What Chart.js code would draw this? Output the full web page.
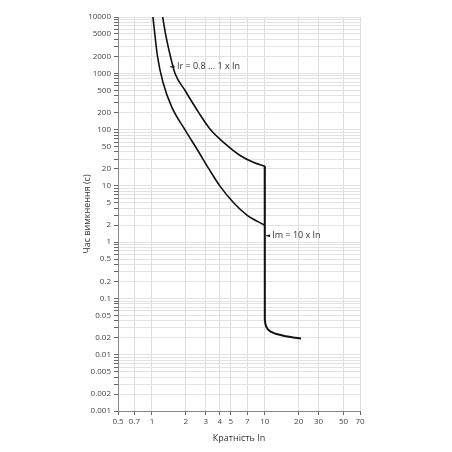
<!DOCTYPE html>
<html><head><meta charset="utf-8">
<script src="https://cdn.jsdelivr.net/npm/chart.js@4"></script>
<style>html,body{margin:0;padding:0;background:#fff}#w{width:452px;height:452px}</style>
</head><body><div id="w"><canvas id="c"></canvas></div>
<script>
const xTickLabels = [0.5,0.7,1,2,3,4,5,7,10,20,30,50,70];
const yTickLabels = [0.001,0.002,0.005,0.01,0.02,0.05,0.1,0.2,0.5,1,2,5,10,20,50,100,200,500,1000,2000,5000,10000];
const upperX = [1.245,1.32,1.42,1.6,1.96,2.6,3.3,4.5,6,8,10];
const upperY = [10000,5000,2500,1000,500,200,100,55,35,26,22.5];
const lowerX = [1.02,1.06,1.12,1.25,1.5,1.96,2.6,3.2,4.0,5.3,7,10];
const lowerY = [10000,5000,2000,700,250,100,40,20,10,5,3,2];
const tailX = [10,10,10.05,10.15,10.35,10.7,11.3,12.5,15,18,21];
const tailY = [22.5,0.05,0.041,0.035,0.031,0.028,0.0258,0.0235,0.0215,0.0202,0.0194];
const labels = [
  {text:'Ir = 0.8 ... 1 x In', x:1.6, y:1300, ax:1.45},
  {text:'Im = 10 x In', x:11.2, y:1.3, ax:10.25}
];
const pts=(xs,ys)=>xs.map((x,i)=>({x,y:ys[i]}));
const yAll=[];for(let e=-3;e<4;e++)for(let m=1;m<10;m++)yAll.push(+(m*Math.pow(10,e)).toPrecision(3));yAll.push(10000);
const fmt=v=>String(v);
const ann={id:'ann',afterDatasetsDraw(ch){const c=ch.ctx,xs=ch.scales.x,ys=ch.scales.y;c.save();c.font='9px "Open Sans"';c.strokeStyle='#222';c.lineWidth=0.8;c.textBaseline='middle';
labels.forEach(l=>{const px=xs.getPixelForValue(l.x),py=ys.getPixelForValue(l.y),ax=xs.getPixelForValue(l.ax);
c.beginPath();c.moveTo(ax,py);c.lineTo(px,py);c.stroke();c.beginPath();c.moveTo(ax,py);c.lineTo(ax+4,py-1.5);c.lineTo(ax+4,py+1.5);c.closePath();c.fillStyle='#222';c.fill();c.fillStyle='#333';c.fillText(l.text,px+2,py);});c.restore();}};
const ds=(d)=>({data:d,borderColor:'#111',borderWidth:1.6,pointRadius:0,cubicInterpolationMode:'monotone',fill:false});
new Chart(document.getElementById('c'),{type:'line',
data:{datasets:[ds(pts(upperX,upperY)),ds(pts(lowerX,lowerY)),{data:pts(tailX,tailY),borderColor:'#111',borderWidth:2,pointRadius:0,tension:0,fill:false}]},
options:{responsive:true,maintainAspectRatio:false,animation:false,
layout:{padding:{left:78,right:92,top:17,bottom:4}},
plugins:{legend:{display:false},tooltip:{enabled:false}},
scales:{
x:{type:'logarithmic',min:0.5,max:70,afterBuildTicks:s=>{s.ticks=xTickLabels.map(v=>({value:v}))},
 afterFit:s=>{s.height=37},
 ticks:{autoSkip:false,maxRotation:0,color:'#444',font:{size:8,family:'Open Sans'},padding:2,callback:v=>fmt(v)},
 grid:{color:'#ddd',tickColor:'#666',tickLength:4},border:{color:'#888'},
 title:{display:true,text:'Кратність In',color:'#333',font:{size:9,family:'Open Sans'},padding:{top:2}}},
y:{type:'logarithmic',min:0.001,max:10000,afterBuildTicks:s=>{s.ticks=yAll.map(v=>({value:v}))},
 afterFit:s=>{s.width=40},
 ticks:{autoSkip:false,color:'#444',font:{size:8,family:'Open Sans'},padding:3,callback:v=>yTickLabels.some(t=>Math.abs(t-v)/t<1e-6)?fmt(v):''},
 grid:{color:'#e2e2e2',tickColor:'#666',tickLength:4},border:{color:'#888'},
 title:{display:true,text:'Час вимкнення (с)',color:'#333',font:{size:9,family:'Open Sans'},padding:{bottom:2}}}
}},plugins:[ann]});
</script></body></html>
